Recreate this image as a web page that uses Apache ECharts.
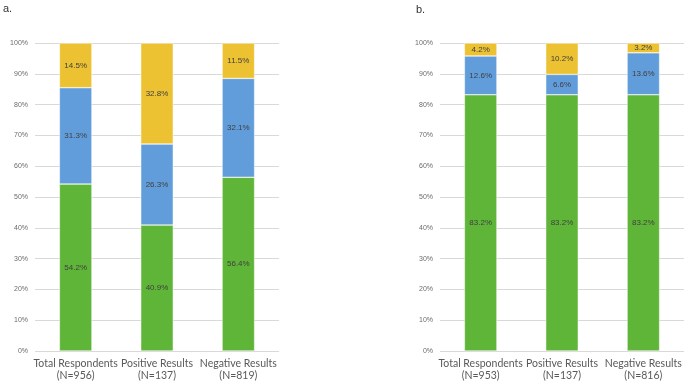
<!DOCTYPE html>
<html><head><meta charset="utf-8">
<script src="https://cdn.jsdelivr.net/npm/echarts@6/dist/echarts.min.js"></script>
<style>html,body{margin:0;padding:0;background:#fff}#c{width:685px;height:382px}</style>
</head><body><div id="c"></div>
<script>
const categoriesA = ['Total Respondents\n(N=956)', 'Positive Results\n(N=137)', 'Negative Results\n(N=819)'];
const categoriesB = ['Total Respondents\n(N=953)', 'Positive Results\n(N=137)', 'Negative Results\n(N=816)'];
const greenA = [54.2, 40.9, 56.4];
const blueA = [31.3, 26.3, 32.1];
const yellowA = [14.5, 32.8, 11.5];
const greenB = [83.2, 83.2, 83.2];
const blueB = [12.6, 6.6, 13.6];
const yellowB = [4.2, 10.2, 3.2];
const panelTitles = ['a.', 'b.'];

const colors = {green: '#5fb538', blue: '#619ddb', yellow: '#ecc232'};
const chart = echarts.init(document.getElementById('c'), null, {renderer: 'canvas'});

function yAxis(idx) {
  return {
    type: 'value', gridIndex: idx, min: 0, max: 100, interval: 10,
    axisLabel: {formatter: '{value}%', fontSize: 7, color: '#6b6b6b', fontFamily: 'Liberation Sans', margin: 7},
    axisLine: {show: false}, axisTick: {show: false},
    splitLine: {lineStyle: {color: '#d9d9d9', width: 1}}
  };
}
function xAxis(idx, cats) {
  return {
    type: 'category', gridIndex: idx, data: cats,
    axisLine: {show: false}, axisTick: {show: false},
    axisLabel: {fontSize: 10.5, color: '#595959', fontFamily: 'Lato', lineHeight: 12, margin: 7, interval: 0}
  };
}
function series(idx, data, color, stack) {
  return {
    type: 'bar', xAxisIndex: idx, yAxisIndex: idx, stack: stack, data: data,
    barWidth: '40%',
    itemStyle: {color: color, borderColor: '#ffffff', borderWidth: 0.5},
    label: {show: true, position: 'inside', formatter: p => p.value.toFixed(1) + '%', fontSize: 8, color: '#404040', fontFamily: 'Liberation Sans'}
  };
}

chart.setOption({
  animation: false,
  title: [
    {text: panelTitles[0], left: -2, top: -2, textStyle: {fontSize: 11, fontWeight: 'normal', color: '#333', fontFamily: 'Liberation Sans'}},
    {text: panelTitles[1], left: 411, top: -1, textStyle: {fontSize: 11, fontWeight: 'normal', color: '#333', fontFamily: 'Liberation Sans'}}
  ],
  grid: [
    {left: 35, right: 406, top: 43, bottom: 30},
    {left: 440, right: 1, top: 43, bottom: 30}
  ],
  xAxis: [xAxis(0, categoriesA), xAxis(1, categoriesB)],
  yAxis: [yAxis(0), yAxis(1)],
  series: [
    series(0, greenA, colors.green, 'a'),
    series(0, blueA, colors.blue, 'a'),
    series(0, yellowA, colors.yellow, 'a'),
    series(1, greenB, colors.green, 'b'),
    series(1, blueB, colors.blue, 'b'),
    series(1, yellowB, colors.yellow, 'b')
  ]
});
</script></body></html>
